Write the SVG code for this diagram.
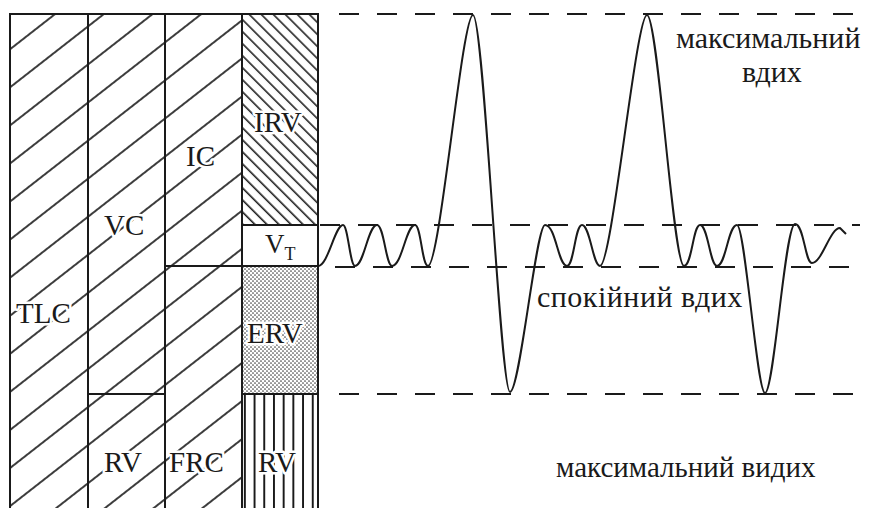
<svg xmlns="http://www.w3.org/2000/svg" width="874" height="508" viewBox="0 0 874 508">
<style>
.box{stroke:#1a1a1a;stroke-width:2}
.lab{font-family:"Liberation Serif","Times New Roman",serif;font-size:29px;fill:#1a1a1a;stroke:#fff;stroke-width:5px;paint-order:stroke;stroke-linejoin:round}
.cyr{font-family:"Liberation Serif","Times New Roman",serif;font-size:30px;fill:#1a1a1a}
.dash{fill:none;stroke:#1a1a1a;stroke-width:2;stroke-dasharray:20 18}
.curve{fill:none;stroke:#1a1a1a;stroke-width:2;stroke-linejoin:round}
</style>
<defs>
<pattern id="fwd" patternUnits="userSpaceOnUse" width="10" height="30" patternTransform="rotate(-38)">
<rect x="-1" y="-1" width="12" height="32" fill="#fff"/>
<line x1="-1" y1="15" x2="11" y2="15" stroke="#1a1a1a" stroke-width="1.7"/>
</pattern>
<pattern id="back" patternUnits="userSpaceOnUse" width="10" height="8.5" patternTransform="rotate(45)">
<rect x="-1" y="-1" width="12" height="11" fill="#fff"/>
<line x1="-1" y1="4" x2="11" y2="4" stroke="#1a1a1a" stroke-width="1.6"/>
</pattern>
<pattern id="dots" patternUnits="userSpaceOnUse" width="4" height="4">
<rect width="4" height="4" fill="#fff"/>
<circle cx="1" cy="1" r="0.85" fill="#444"/>
<circle cx="3" cy="3" r="0.85" fill="#444"/>
</pattern>
<pattern id="vert" patternUnits="userSpaceOnUse" width="9.7" height="10" x="240">
<rect width="9.7" height="10" fill="#fff"/>
<line x1="4.85" y1="-1" x2="4.85" y2="11" stroke="#1a1a1a" stroke-width="2"/>
</pattern>
</defs>
<rect width="874" height="508" fill="#fff"/>

<g id="TLC">
<rect x="10" y="14" width="78" height="500" fill="url(#fwd)" class="box"/>
<text x="16" y="323" class="lab">TLC</text>
</g>
<g id="VC">
<rect x="88" y="14" width="77" height="380" fill="url(#fwd)" class="box"/>
<text x="104" y="235" class="lab">VC</text>
</g>
<g id="RV1">
<rect x="88" y="394" width="77" height="120" fill="url(#fwd)" class="box"/>
<text x="104" y="472" class="lab">RV</text>
</g>
<g id="IC">
<rect x="165" y="14" width="77" height="252" fill="url(#fwd)" class="box"/>
<text x="186" y="166" class="lab">IC</text>
</g>
<g id="FRC">
<rect x="165" y="266" width="77" height="248" fill="url(#fwd)" class="box"/>
<text x="169" y="472" class="lab">FRC</text>
</g>
<g id="IRV">
<rect x="242" y="14" width="76" height="211" fill="url(#back)" class="box"/>
<text x="254" y="132" class="lab">IRV</text>
</g>
<g id="VT">
<rect x="242" y="225" width="76" height="41" fill="#fff" class="box"/>
<text x="265" y="253" class="lab" style="font-size:27px">V<tspan style="font-size:18px" dy="7">T</tspan></text>
</g>
<g id="ERV">
<rect x="242" y="266" width="76" height="128" fill="url(#dots)" class="box"/>
<text x="247" y="343" class="lab">ERV</text>
</g>
<g id="RV2">
<rect x="242" y="394" width="76" height="120" fill="url(#vert)" class="box"/>
<text x="258" y="472" class="lab">RV</text>
</g>

<g id="connectors">
<line x1="339" y1="14" x2="860" y2="14" class="dash"/>
<line x1="320" y1="225" x2="860" y2="225" class="dash"/>
<line x1="335" y1="267" x2="860" y2="267" class="dash"/>
<line x1="339" y1="394" x2="860" y2="394" class="dash"/>
<path class="curve" d="M318,266 C328,266 335,225 343,225 C348,225 350,266 355,266 C364,266 368,225 377,225 C384,225 386,266 392,266 C402,266 406,225 415,225 C421,225 422,266 428,266 C440,266 462,15 473,15 C484,15 500,392 510,392 C520,392 536,225 545,225 C556,225 558,266 567,266 C574,266 575,225 582,225 C590,225 593,266 600,266 C612,266 636,15 647,15 C658,15 673,266 684,266 C692,266 693,225 700,225 C708,225 710,266 717,266 C726,266 728,225 737,225 C745,225 757,393 765,393 C774,393 785,224 795,224 C804,224 805,263 812,263 C822,263 830,228 840,228 L846,234"/>
</g>

<g id="labels">
<text x="676" y="48" class="cyr">максимальний</text>
<text x="742" y="82" class="cyr">вдих</text>
<text x="537" y="307" class="cyr" letter-spacing="0.5">спокійний вдих</text>
<text x="556" y="477" class="cyr" style="font-size:29px">максимальний видих</text>
</g>
</svg>
